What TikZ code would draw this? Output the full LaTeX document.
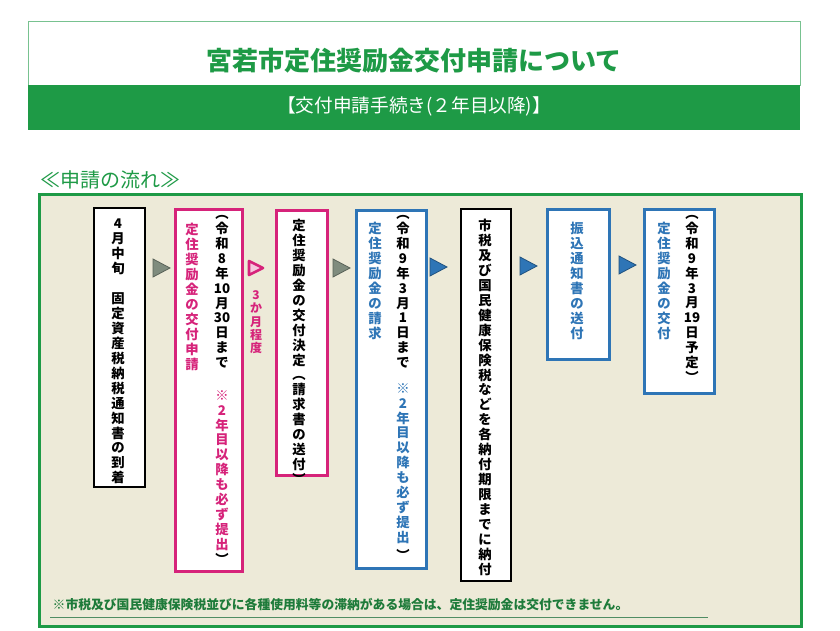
\documentclass[tikz,border=0pt]{standalone}
\usepackage{fontspec}
\newfontfamily\jp{Noto Sans CJK JP}
\definecolor{grn}{HTML}{1E9A46}
\definecolor{dgrn}{HTML}{1E7B3A}
\definecolor{pnk}{HTML}{D6237A}
\definecolor{blu}{HTML}{2E75B6}
\definecolor{beige}{HTML}{EDEAD8}
\definecolor{garr}{HTML}{7F8C7E}
\makeatletter
\newcommand\vstack[1]{\vbox{\baselineskip=1.12em\lineskiplimit=-20pt\@tfor\vv:=#1\do{\hbox to 1.3em{\hss\vv\hss}}}}
\makeatother
\tikzset{
 box/.style={draw=#1,line width=2.2pt,fill=white},
 col/.style={anchor=north,inner sep=0pt,font=\jp\bfseries\fontsize{10}{12}\selectfont,text=#1},
 tri/.style={fill=#1,draw=#1!70!black,line width=0.6pt},
}
\begin{document}
\begin{tikzpicture}[x=0.75pt,y=-0.75pt]
\useasboundingbox (0,0) rectangle (840,631);
\fill[white] (0,0) rectangle (840,631);
% header
\node[draw=grn!60,line width=0.6pt,fill=white,minimum width=772*0.75pt,minimum height=64*0.75pt,anchor=north west] (hd) at (28,21) {};
\node[text=grn,font=\jp\bfseries\fontsize{19.5}{22}\selectfont] (title) at (414,61) {宮若市定住奨励金交付申請について};
\node[fill=grn,minimum width=772*0.75pt,minimum height=45*0.75pt,anchor=north west,inner sep=0pt] (bar) at (28,85) {};
\node[text=white,font=\jp\fontsize{14}{16}\selectfont] (sub) at (414,106) {【交付申請手続き(２年目以降)】};
\node[text=grn,font=\jp\fontsize{15}{17}\selectfont,anchor=west] (flow) at (36,180) {≪申請の流れ≫};
% panel
\node[draw=grn,line width=2pt,fill=beige,minimum width=762*0.75pt,minimum height=432*0.75pt,anchor=north west] (panel) at (38,193) {};
% boxes
\node[box=black,line width=1.4pt,minimum width=51*0.75pt,minimum height=279*0.75pt,anchor=north west] (b1) at (93,207) {};
\node[box=pnk,minimum width=67*0.75pt,minimum height=362*0.75pt,anchor=north west] (b2) at (174,208) {};
\node[box=pnk,minimum width=51*0.75pt,minimum height=265*0.75pt,anchor=north west] (b3) at (275,209) {};
\node[box=blu,minimum width=70*0.75pt,minimum height=358*0.75pt,anchor=north west] (b4) at (355,209) {};
\node[box=black,line width=1.4pt,minimum width=50*0.75pt,minimum height=372*0.75pt,anchor=north west] (b5) at (460,208) {};
\node[box=blu,minimum width=62*0.75pt,minimum height=150*0.75pt,anchor=north west] (b6) at (546,208) {};
\node[box=blu,minimum width=70*0.75pt,minimum height=184*0.75pt,anchor=north west] (b7) at (643,208) {};
% texts
\node[col=black] (t1) at (118,219) {\vstack{4月中旬{　}固定資産税納税通知書の到着}};
\node[col=black] (t2a) at (222,215) {\vstack{︵令和8年{10}月{30}日まで}};
\node[col=pnk] (t2b) at (222,390) {\vstack{※2年目以降も必ず提出}};
\node[col=black,anchor=north] (t2c) at (222,553) {\vstack{︶}};
\node[col=pnk] (t2d) at (192,223) {\vstack{定住奨励金の交付申請}};
\node[col=pnk,font=\jp\bfseries\fontsize{9}{11}\selectfont] (t3m) at (256,290) {\vstack{3か月程度}};
\node[col=black] (t3) at (299,219) {\vstack{定住奨励金の交付決定︵請求書の送付︶}};
\node[col=black] (t4a) at (403,215) {\vstack{︵令和9年3月1日まで}};
\node[col=blu] (t4b) at (403,383) {\vstack{※2年目以降も必ず提出}};
\node[col=black] (t4c) at (403,549) {\vstack{︶}};
\node[col=blu] (t4d) at (375,222) {\vstack{定住奨励金の請求}};
\node[col=black] (t5) at (485,219) {\vstack{市税及び国民健康保険税などを各納付期限までに納付}};
\node[col=blu] (t6) at (577,222) {\vstack{振込通知書の送付}};
\node[col=black] (t7a) at (692,215) {\vstack{︵令和9年3月{19}日予定︶}};
\node[col=blu] (t7b) at (664,222) {\vstack{定住奨励金の交付}};
% arrows
\draw[tri=garr] (153,259) -- (170,268) -- (153,277) -- cycle;
\draw[fill=pnk!25,draw=pnk,line width=2pt,line join=round] (249,261) -- (263,268) -- (249,275) -- cycle;
\draw[tri=garr] (333,259) -- (350,268) -- (333,277) -- cycle;
\draw[tri=blu] (430,258) -- (447,267) -- (430,276) -- cycle;
\draw[tri=blu] (520,257) -- (537,266) -- (520,275) -- cycle;
\draw[tri=blu] (619,256) -- (636,265) -- (619,274) -- cycle;
% note
\node[text=dgrn,font=\jp\bfseries\fontsize{9.6}{11}\selectfont,anchor=west] (note) at (48,605) {※市税及び国民健康保険税並びに各種使用料等の滞納がある場合は、定住奨励金は交付できません。};
\draw[grn!50!gray,line width=0.6pt] (50,617) -- (708,617);
\end{tikzpicture}
\end{document}
